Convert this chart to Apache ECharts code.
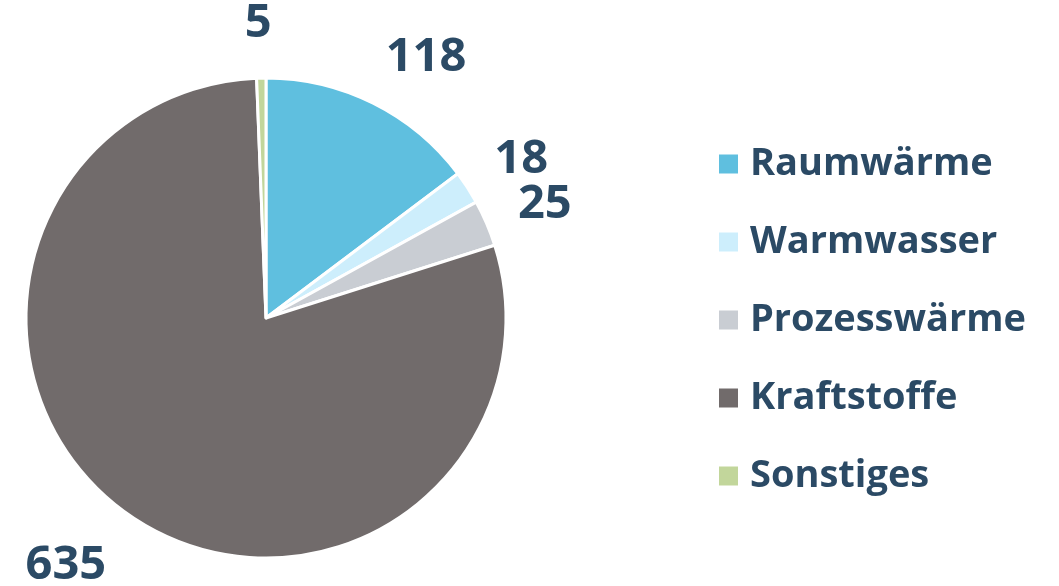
<!DOCTYPE html>
<html>
<head>
<meta charset="utf-8">
<script src="https://cdn.jsdelivr.net/npm/echarts@6/dist/echarts.min.js"></script>
<style>
  html, body { margin: 0; padding: 0; background: #fff; }
  #main { width: 1059px; height: 586px; }
</style>
</head>
<body>
<div id="main"></div>
<script>
// Daten
const categories = ["Raumwärme", "Warmwasser", "Prozesswärme", "Kraftstoffe", "Sonstiges"];
const values = [118, 18, 25, 635, 5];
const colors = ["#5fbfdf", "#cdeefc", "#c9cdd3", "#716b6b", "#c2d69b"];
// kleine Verschiebung der Beschriftungen (wie im Original)
const labelShift = [[22, 6], [0, 4], [0, 4], [-24, 4], [3, 4]];

let myChart = echarts.init(document.getElementById("main"));
const textColor = "#2b4a65";
const fontFam = "'Open Sans', sans-serif";

let option = {
  animation: false,
  color: colors,
  legend: {
    orient: "vertical",
    left: 712,
    top: 138,
    icon: "rect",
    itemWidth: 21,
    itemHeight: 21,
    itemGap: 36,
    data: categories,
    textStyle: {
      color: textColor,
      fontFamily: fontFam,
      fontWeight: "bold",
      fontSize: 38,
      lineHeight: 42,
      padding: [0, 0, 0, 6],
    },
  },
  series: [
    {
      type: "pie",
      center: [266, 318],
      radius: 240,
      startAngle: 90,
      clockwise: true,
      avoidLabelOverlap: false,
      itemStyle: {
        borderColor: "#fff",
        borderWidth: 3,
      },
      label: {
        show: true,
        position: "outside",
        formatter: "{c}",
        color: textColor,
        fontFamily: fontFam,
        fontWeight: "bold",
        fontSize: 47,
      },
      labelLine: {
        show: false,
        length: 58,
        length2: 0,
      },
      labelLayout: function (params) {
        let s = labelShift[params.dataIndex];
        return {
          align: "center",
          verticalAlign: "middle",
          hideOverlap: false,
          moveOverlap: false,
          dx: s[0],
          dy: s[1],
        };
      },
      data: categories.map((name, i) => ({ name: name, value: values[i] })),
    },
  ],
};
option && myChart.setOption(option);
</script>
</body>
</html>
